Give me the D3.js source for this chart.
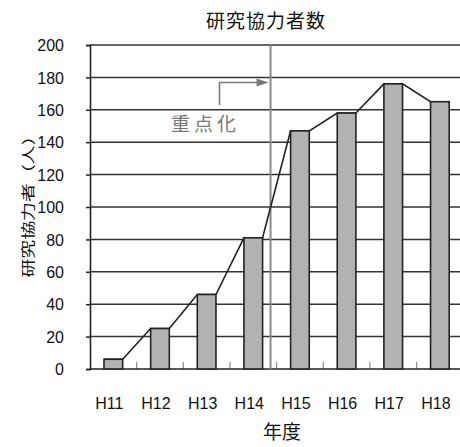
<!DOCTYPE html>
<html>
<head>
<meta charset="utf-8">
<script src="https://cdn.jsdelivr.net/npm/d3@7/dist/d3.min.js"></script>
<style>
  html, body { margin: 0; padding: 0; background: #fff; }
  svg { display: block; }
</style>
</head>
<body>
<script>
// Research collaborators per fiscal year
const years = ["H11", "H12", "H13", "H14", "H15", "H16", "H17", "H18"];
const collaborators = [6, 25, 46, 81, 147, 158, 176, 165];
const yTicks = [0, 20, 40, 60, 80, 100, 120, 140, 160, 180, 200];
const titleText = "研究協力者数";
const yTitle = "研究協力者（人）";
const xTitle = "年度";
const focusLabel = "重点化";
// focus marker sits between H14 and H15 (index units along the category axis)
const focusIndex = 3.87;

const W = 460, H = 447;
const plotLeft = 90, plotTop = 45, plotBottom = 369;
const step = 46.65;
const plotRight = plotLeft + step * years.length;

const svg = d3.select("body").append("svg").attr("width", W).attr("height", H);

const x = d3.scaleBand().domain(years).range([plotLeft, plotRight]).paddingInner(0.6).paddingOuter(0.3);
const xi = d3.scaleLinear().domain([0, years.length]).range([plotLeft, plotRight]);
const y = d3.scaleLinear().domain([0, 200]).range([plotBottom, plotTop]);

const numFont = "'Liberation Sans', Arial, sans-serif";
const cjkFont = "'Noto Sans CJK JP', sans-serif";

// horizontal gridlines
svg.append("g").selectAll("line").data(yTicks.filter(d => d > 0)).join("line")
  .attr("x1", plotLeft).attr("x2", plotRight + 5)
  .attr("y1", d => y(d)).attr("y2", d => y(d))
  .attr("stroke", "#333").attr("stroke-width", 1.5);

// left axis
const yAxis = d3.axisLeft(y).tickValues(yTicks).tickSize(4).tickPadding(24).tickFormat(d3.format("d"));
const gy = svg.append("g").attr("transform", `translate(${plotLeft},0)`).call(yAxis);
gy.select(".domain").attr("stroke", "#222").attr("stroke-width", 1.6);
gy.selectAll(".tick line").attr("stroke", "#222").attr("stroke-width", 1.5);
gy.selectAll(".tick text")
  .attr("font-family", numFont).attr("font-size", 16).attr("fill", "#111")
  .attr("dy", "0.36em").attr("x", -26);

// bottom axis: short inward ticks at category boundaries
const boundaries = d3.range(1, years.length + 1);
svg.append("g").selectAll("line").data(boundaries).join("line")
  .attr("x1", d => xi(d)).attr("x2", d => xi(d))
  .attr("y1", plotBottom).attr("y2", plotBottom - 7)
  .attr("stroke", "#888").attr("stroke-width", 1.2);

svg.append("line")
  .attr("x1", plotLeft).attr("x2", plotRight + 5).attr("y1", plotBottom).attr("y2", plotBottom)
  .attr("stroke", "#222").attr("stroke-width", 1.6);

svg.append("g").selectAll("text").data(years).join("text")
  .attr("x", d => x(d) + x.bandwidth() / 2 - 4)
  .attr("y", 409)
  .attr("text-anchor", "middle")
  .attr("font-family", numFont).attr("font-size", 16).attr("fill", "#111")
  .text(d => d);

// focus divider
const fx = xi(focusIndex);
svg.append("line")
  .attr("x1", fx).attr("x2", fx).attr("y1", plotTop).attr("y2", plotBottom)
  .attr("stroke", "#8a8a8a").attr("stroke-width", 2);

// connector lines from each bar's top-right corner to the next bar's top-left corner
const pts = [];
years.forEach((yr, i) => {
  pts.push([x(yr), y(collaborators[i])]);
  pts.push([x(yr) + x.bandwidth(), y(collaborators[i])]);
});
svg.append("path")
  .attr("d", d3.line()(pts))
  .attr("fill", "none").attr("stroke", "#222").attr("stroke-width", 1.6);

// bars
svg.append("g").selectAll("rect").data(years).join("rect")
  .attr("x", d => x(d))
  .attr("y", (d, i) => y(collaborators[i]))
  .attr("width", x.bandwidth())
  .attr("height", (d, i) => plotBottom - y(collaborators[i]))
  .attr("fill", "#b2b2b2").attr("stroke", "#222").attr("stroke-width", 1.6);

// focus arrow
const ax = 219.5, ay0 = 105, ay1 = 82.5;
svg.append("path")
  .attr("d", `M${ax},${ay0} L${ax},${ay1} L${fx - 12},${ay1}`)
  .attr("fill", "none").attr("stroke", "#7a7a7a").attr("stroke-width", 1.6);
svg.append("path")
  .attr("d", `M${fx - 2},${ay1} L${fx - 14},${ay1 - 4} L${fx - 14},${ay1 + 4} Z`)
  .attr("fill", "#7a7a7a");

svg.append("text")
  .attr("x", 171).attr("y", 131)
  .attr("font-family", cjkFont).attr("font-size", 19).attr("fill", "#7a7a7a")
  .attr("letter-spacing", 4)
  .text(focusLabel);

// titles
svg.append("text")
  .attr("x", 266).attr("y", 28)
  .attr("text-anchor", "middle")
  .attr("font-family", cjkFont).attr("font-size", 19).attr("fill", "#111")
  .attr("letter-spacing", 1)
  .text(titleText);

svg.append("text")
  .attr("transform", "translate(27,202) rotate(-90) scale(1.35,1)")
  .attr("text-anchor", "middle").attr("dominant-baseline", "central")
  .attr("font-family", cjkFont).attr("font-size", 14).attr("fill", "#111")
  .text(yTitle);

svg.append("text")
  .attr("x", 282).attr("y", 439)
  .attr("text-anchor", "middle")
  .attr("font-family", cjkFont).attr("font-size", 19).attr("fill", "#111")
  .text(xTitle);
</script>
</body>
</html>
